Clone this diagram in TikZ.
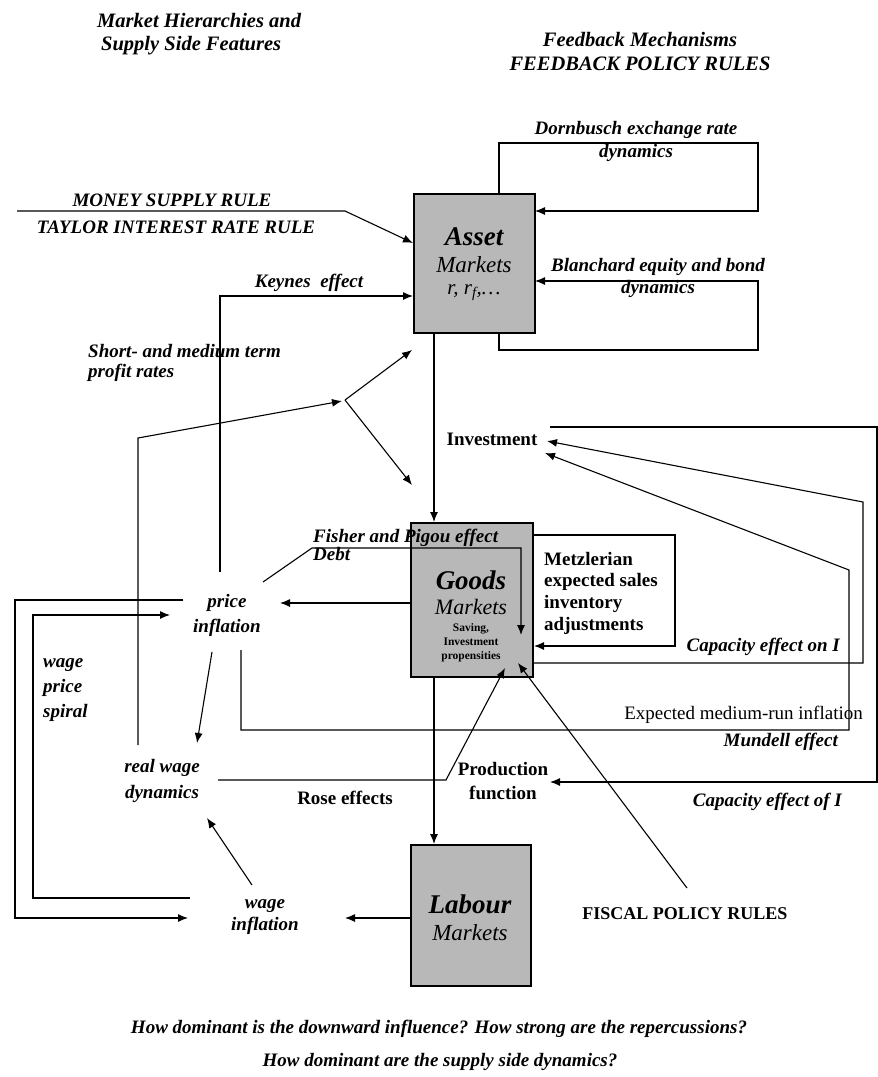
\documentclass[tikz,border=0pt]{standalone}
\usepackage{fontspec}
\setmainfont{Liberation Serif}
\usetikzlibrary{arrows.meta}
\begin{document}
\begin{tikzpicture}[x=1pt,y=-1pt,
  lbl/.style={font=\fontsize{19}{22}\selectfont\bfseries\itshape, inner sep=0pt, align=center},
  blbl/.style={font=\fontsize{19}{21.7}\selectfont\bfseries, inner sep=0pt, align=left},
  rlbl/.style={font=\fontsize{19}{22}\selectfont, inner sep=0pt},
  conn/.style={line width=1.1pt},
  arr/.style={conn, -{Latex[length=10pt,width=8pt]}},
  market/.style={draw, line width=1.8pt, fill=black!28, inner sep=0pt, anchor=north west}]
\useasboundingbox (0,0) rectangle (878,1077);

% market boxes
\node[market, minimum width=121pt, minimum height=139pt] (asset) at (413,193) {};
\node[market, minimum width=122pt, minimum height=154pt] (goods) at (410,522) {};
\node[market, minimum width=120pt, minimum height=141pt] (labour) at (410,844) {};

\node[font=\fontsize{27}{30}\selectfont\bfseries\itshape, inner sep=0pt] (assetT) at (474,237) {Asset};
\node[font=\fontsize{23}{26}\selectfont\itshape, inner sep=0pt] (assetM) at (474,265) {Markets};
\node[font=\fontsize{21}{24}\selectfont\itshape, inner sep=0pt] (assetR) at (474,293) {r, r\textsubscript{f},\ldots};

\node[font=\fontsize{27}{30}\selectfont\bfseries\itshape, inner sep=0pt] (goodsT) at (471,580) {Goods};
\node[font=\fontsize{22}{24}\selectfont\itshape, inner sep=0pt] (goodsM) at (471,607) {Markets};
\node[font=\fontsize{11.5}{14}\selectfont\bfseries, align=center, inner sep=0pt] (goodsS) at (471,643) {Saving,\\Investment\\propensities};

\node[font=\fontsize{27}{30}\selectfont\bfseries\itshape, inner sep=0pt] (labT) at (470,904) {Labour};
\node[font=\fontsize{23}{26}\selectfont\itshape, inner sep=0pt] (labM) at (470,933) {Markets};

% text labels
\node[lbl, anchor=west, align=left, font=\fontsize{20.5}{23}\selectfont\bfseries\itshape] (title1) at (97,34.5) {Market Hierarchies and\\\hspace*{4pt}Supply Side Features};
\node[lbl, font=\fontsize{20.5}{24}\selectfont\bfseries\itshape] (title2) at (640,51) {Feedback Mechanisms\\FEEDBACK POLICY RULES};
\node[lbl, font=\fontsize{19}{23}\selectfont\bfseries\itshape] (dornT) at (636,141.5) {Dornbusch exchange rate\\dynamics};
\node[lbl] (blanT) at (658,278) {Blanchard equity and bond\\dynamics};
\node[lbl] (moneyT) at (172,200) {MONEY SUPPLY RULE};
\node[lbl] (taylorT) at (176,227) {TAYLOR INTEREST RATE RULE};
\node[lbl] (keynesT) at (309,283) {Keynes\ \ effect};
\node[lbl, anchor=west, align=left, font=\fontsize{19}{20.5}\selectfont\bfseries\itshape] (shortT) at (88,363) {Short- and medium term\\profit rates};
\node[blbl] (invest) at (492,439) {Investment};
\node[lbl, anchor=west, align=left, font=\fontsize{19}{17}\selectfont\bfseries\itshape] (fisherT) at (313,545) {Fisher and Pigou effect\\Debt};
\node[blbl, anchor=west] (metzT) at (544,593) {Metzlerian\\expected sales\\inventory\\adjustments};
\node[lbl, anchor=east] (capOnT) at (840,647) {Capacity effect on I};
\node[rlbl, anchor=east] (expT) at (863,715) {Expected medium-run inflation};
\node[lbl, anchor=east] (mundT) at (838,742) {Mundell effect};
\node[lbl, anchor=east] (capOfT) at (842,802) {Capacity effect of I};
\node[lbl, font=\fontsize{19}{25}\selectfont\bfseries\itshape] (price) at (227,615) {price\\inflation};
\node[lbl, font=\fontsize{19}{26}\selectfont\bfseries\itshape] (realwage) at (162,781) {real wage\\dynamics};
\node[lbl, anchor=west, align=left, font=\fontsize{19}{25}\selectfont\bfseries\itshape] (spiralT) at (43,690) {wage\\price\\spiral};
\node[lbl, font=\fontsize{19}{22}\selectfont\bfseries\itshape] (wageinf) at (265,917) {wage\\inflation};
\node[blbl, align=center, font=\fontsize{19}{24}\selectfont\bfseries] (prodfn) at (503,781) {Production\\function};
\node[blbl] (roseT) at (345,798) {Rose effects};
\node[blbl, font=\fontsize{18}{21}\selectfont\bfseries] (fiscal) at (685,914) {FISCAL POLICY RULES};
\node[lbl] (q1) at (439,1029) {How dominant is the downward influence? How strong are the repercussions?};
\node[lbl] (q2) at (440,1062) {How dominant are the supply side dynamics?};

% coordinates
\coordinate (ms0) at (17,211);
\coordinate (ms1) at (345,211);
\coordinate (msE) at (413,243);
\coordinate (k0) at (220,572);
\coordinate (k1) at (220,296);
\coordinate (kE) at (413,296);
\coordinate (p0) at (138,745);
\coordinate (p1) at (138,438);
\coordinate (pv) at (345,400);
\coordinate (pvE) at (342,401);
\coordinate (pA) at (412,350);
\coordinate (pG) at (412,485);
\coordinate (ag0) at (434,332);
\coordinate (ag1) at (434,522);
\coordinate (d0) at (499,193);
\coordinate (d1) at (499,143);
\coordinate (d2) at (758,143);
\coordinate (d3) at (758,211);
\coordinate (dE) at (535,211);
\coordinate (b0) at (499,332);
\coordinate (b1) at (499,350);
\coordinate (b2) at (758,350);
\coordinate (b3) at (758,281);
\coordinate (bE) at (535,281);
\coordinate (c0) at (550,427);
\coordinate (c1) at (877,427);
\coordinate (c2) at (877,782);
\coordinate (cE) at (550,782);
\coordinate (co0) at (532,663);
\coordinate (co1) at (863,663);
\coordinate (co2) at (863,502);
\coordinate (coE) at (547,441);
\coordinate (e0) at (241,650);
\coordinate (e1) at (241,730);
\coordinate (e2) at (849,730);
\coordinate (e3) at (849,570);
\coordinate (eE) at (545,453);
\coordinate (m0) at (532,535);
\coordinate (m1) at (675,535);
\coordinate (m2) at (675,646);
\coordinate (mE) at (534,646);
\coordinate (f0) at (263,582);
\coordinate (f1) at (312,548);
\coordinate (f2) at (521,548);
\coordinate (fE) at (521,635);
\coordinate (gp0) at (410,603);
\coordinate (gpE) at (280,603);
\coordinate (pr0) at (212,652);
\coordinate (prE) at (197,743);
\coordinate (r0) at (218,780);
\coordinate (r1) at (446,780);
\coordinate (rE) at (505,668);
\coordinate (gl0) at (434,676);
\coordinate (glE) at (434,844);
\coordinate (fi0) at (687,888);
\coordinate (fiE) at (518,663);
\coordinate (lw0) at (410,918);
\coordinate (lwE) at (345,918);
\coordinate (wr0) at (252,885);
\coordinate (wrE) at (207,818);
\coordinate (so0) at (183,600);
\coordinate (so1) at (15,600);
\coordinate (so2) at (15,918);
\coordinate (soE) at (188,918);
\coordinate (si0) at (190,898);
\coordinate (si1) at (33,898);
\coordinate (si2) at (33,615);
\coordinate (siE) at (170,615);

% connectors
\draw[arr] (ms0) -- (ms1) -- (msE);
\draw[arr] (k0) -- (k1) -- (kE);
\draw[arr] (p0) -- (p1) -- (pvE);
\draw[arr] (pv) -- (pA);
\draw[arr] (pv) -- (pG);
\draw[arr] (ag0) -- (ag1);
\draw[arr] (d0) -- (d1) -- (d2) -- (d3) -- (dE);
\draw[arr] (b0) -- (b1) -- (b2) -- (b3) -- (bE);
\draw[arr] (c0) -- (c1) -- (c2) -- (cE);
\draw[arr] (co0) -- (co1) -- (co2) -- (coE);
\draw[arr] (e0) -- (e1) -- (e2) -- (e3) -- (eE);
\draw[arr] (m0) -- (m1) -- (m2) -- (mE);
\draw[arr] (f0) -- (f1) -- (f2) -- (fE);
\draw[arr] (gp0) -- (gpE);
\draw[arr] (pr0) -- (prE);
\draw[arr] (r0) -- (r1) -- (rE);
\draw[arr] (gl0) -- (glE);
\draw[arr] (fi0) -- (fiE);
\draw[arr] (lw0) -- (lwE);
\draw[arr] (wr0) -- (wrE);
\draw[arr] (so0) -- (so1) -- (so2) -- (soE);
\draw[arr] (si0) -- (si1) -- (si2) -- (siE);
\end{tikzpicture}
\end{document}
